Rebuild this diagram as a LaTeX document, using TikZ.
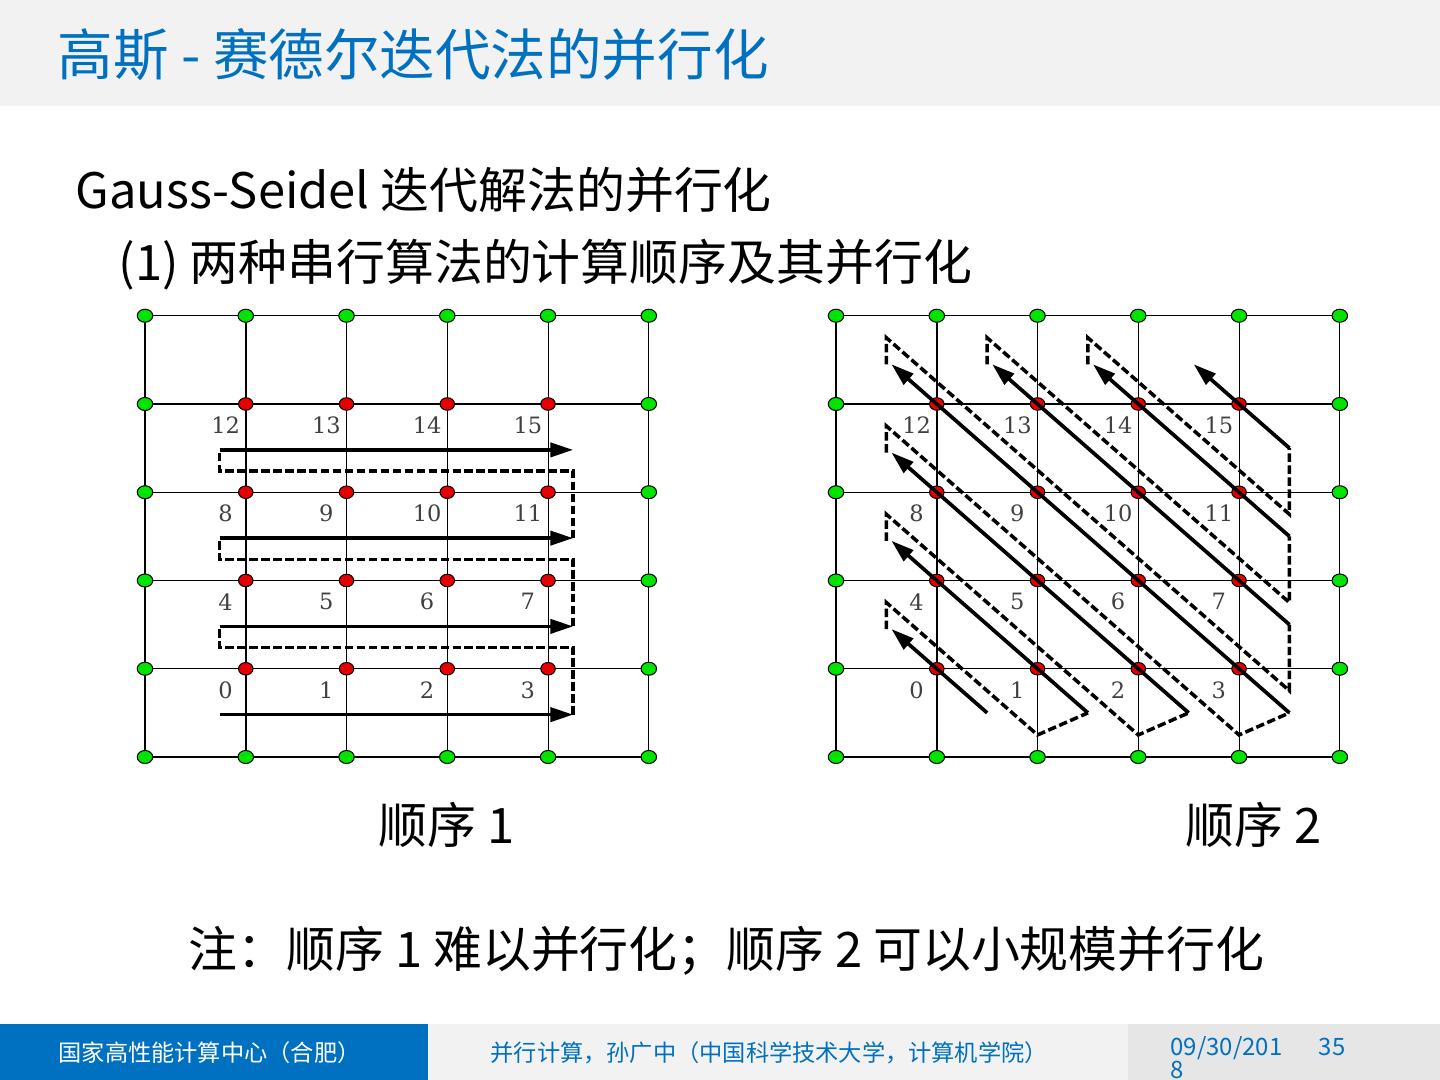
\documentclass[tikz,border=0pt]{standalone}
\usepackage{fontspec}
\setmainfont{Noto Sans CJK SC}
\newfontfamily\numfont{DejaVu Serif}
\usetikzlibrary{arrows.meta,shapes.geometric,calc,backgrounds}
\definecolor{titleblue}{HTML}{0070C0}
\definecolor{bargray}{HTML}{F2F2F2}
\definecolor{dategray}{HTML}{E6E6E6}
\definecolor{dotgreen}{HTML}{00E400}
\definecolor{dotred}{HTML}{E80000}
\tikzset{
	gdot/.style={ellipse, draw=black, line width=0.3pt, fill=dotgreen, minimum width=0.155cm, minimum height=0.13cm, inner sep=0pt},
	rdot/.style={gdot, fill=dotred, minimum width=0.145cm, minimum height=0.125cm},
	gline/.style={line width=0.3pt},
	num/.style={inner sep=0pt, text=black!75, font=\numfont\fontsize{6.4pt}{7pt}\selectfont},
	route/.style={line width=1.05pt, -{Triangle[length=6.5pt,width=4pt]}},
	back/.style={line width=1pt, dash pattern=on 2.4pt off 1pt},
	head/.style={anchor=base west, inner sep=0pt, text=titleblue, font=\fontsize{15.8pt}{18pt}\selectfont},
	body/.style={anchor=base west, inner sep=0pt, font=\fontsize{13.9pt}{16pt}\selectfont},
	foot/.style={anchor=base west, inner sep=0pt, font=\fontsize{6.6pt}{8pt}\selectfont}
}
\begin{document}
\begin{tikzpicture}[x=0.01cm, y=-0.01cm]
	\useasboundingbox (0,0) rectangle (1440,1080);
	\clip (0,0) rectangle (1440,1080);
	\fill[bargray] (0,0) rectangle (1440,106);
	\fill[titleblue] (0,1024) rectangle (428,1080);
	\fill[bargray] (428,1024) rectangle (1128,1080);
	\fill[dategray] (1128,1024) rectangle (1440,1080);
	\node[head] (title) at (57,76) {高斯 - 赛德尔迭代法的并行化};
	\node[body] (line1) at (75,209) {Gauss-Seidel 迭代解法的并行化};
	\node[body] (line2) at (118,281) {(1) 两种串行算法的计算顺序及其并行化};
	% meshes
	\foreach \g/\sx in {l/145,r/836} {
		\begin{scope}[shift={(\sx,757)}, x=1.007cm, y=0.882cm]
			\foreach \c in {0,...,5}
				\foreach \r in {0,...,5} {
					\pgfmathtruncatemacro\inside{(\c>0)*(\c<5)*(\r>0)*(\r<5)}
					\ifnum\inside=1
						\node[rdot] (\g\c\r) at (\c,\r) {};
					\else
						\node[gdot] (\g\c\r) at (\c,\r) {};
					\fi
				}
			\begin{scope}[on background layer]
				\foreach \c in {0,...,5} {
					\draw[gline] (\g\c0.center) -- (\g\c5.center);
					\draw[gline] (\g0\c.center) -- (\g5\c.center);
				}
				\draw[gline, line width=0.6pt] (\g00.center) -- (\g05.center) (\g10.center) -- (\g15.center);
			\end{scope}
			\foreach \k in {0,...,15} {
				\pgfmathtruncatemacro\c{mod(\k,4)+1}
				\pgfmathtruncatemacro\r{div(\k,4)+1}
				\node[num] (num\g\k) at ($(\g\c\r)+(-0.2,-0.24)$) {\k};
			}
		\end{scope}
	}
	% order 1
	\begin{scope}[shift={(145,757)}, x=1.007cm, y=0.882cm]
		\foreach \r in {0,...,3}
			\draw[route] (0.74,\r+0.48) -- (4.25,\r+0.48);
		\foreach \r in {0,1,2}
			\draw[back] (4.25,\r+0.48) -- (4.25,\r+1.24) -- (0.74,\r+1.24) -- (0.74,\r+1.48);
	\end{scope}
	% order 2
	\begin{scope}[shift={(836,757)}, x=1.007cm, y=0.882cm]
		\foreach \s in {0,...,3}
			\draw[route] ({1.5+\s},0.5) -- (0.55,{1.45+\s});
		\foreach \s in {4,5,6}
			\draw[route] (4.5,{\s-2.5}) -- ({\s-2.45},4.45);
		\foreach \s in {0,1,2}
			\draw[back] (0.5,{1.45+\s}) -- (0.5,{1.75+\s}) -- ({2+\s},0.25) -- ({2.5+\s},0.5);
		\foreach \s in {3,4,5}
			\draw[back] ({\s-2.5},4.45) -- ({\s-2.5},4.75) -- (4.5,{\s-2.25}) -- (4.5,{\s-1.5});
	\end{scope}
	\node[body] (cap1) at (378,843) {顺序 1};
	\node[body] (cap2) at (1185,843) {顺序 2};
	\node[body] (note) at (188,967) {注：顺序 1 难以并行化；顺序 2 可以小规模并行化};
	\node[foot, text=white] (center) at (58,1061) {国家高性能计算中心（合肥）};
	\node[foot, text=titleblue] (course) at (490,1061) {并行计算，孙广中（中国科学技术大学，计算机学院）};
	\node[foot, text=titleblue, font=\fontsize{6.8pt}{8pt}\selectfont] (date) at (1170,1055) {09/30/201};
	\node[foot, text=titleblue, font=\fontsize{6.8pt}{8pt}\selectfont] (date2) at (1170,1078) {8};
	\node[foot, text=titleblue, font=\fontsize{6.8pt}{8pt}\selectfont] (page) at (1318,1055) {35};
\end{tikzpicture}
\end{document}
